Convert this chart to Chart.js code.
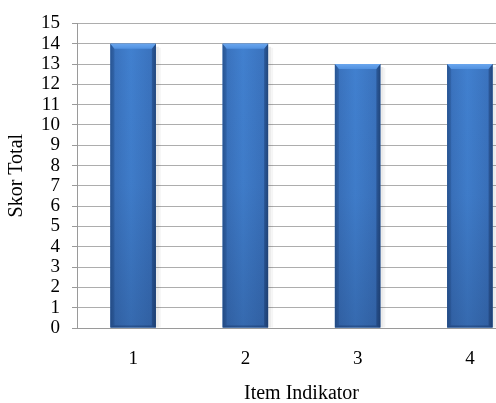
<!DOCTYPE html>
<html>
<head>
<meta charset="utf-8">
<script src="https://cdn.jsdelivr.net/npm/chart.js@4/dist/chart.umd.min.js"></script>
<style>
  html, body { margin: 0; padding: 0; background: #fff; overflow: hidden; }
  #wrap { width: 540px; height: 403px; position: relative; }
</style>
</head>
<body>
<div id="wrap"><canvas id="c" width="540" height="403"></canvas></div>
<script>
// Score per indicator item
const categories = ['1', '2', '3', '4'];
const skorTotal = [14, 14, 13, 13];
const yTicks = [0, 1, 2, 3, 4, 5, 6, 7, 8, 9, 10, 11, 12, 13, 14, 15];

const serif = "'Liberation Serif', 'Times New Roman', serif";

// Cylinder-like shading with a bevelled top edge, drawn over each bar
const bevelBars = {
  id: 'bevelBars',
  beforeDatasetsDraw(chart) {
    const ctx = chart.ctx;
    const meta = chart.getDatasetMeta(0);
    meta.data.forEach(bar => {
      const { x, y, base, width } = bar.getProps(['x', 'y', 'base', 'width'], true);
      const l = x - width / 2;
      // soft shadow to the right
      ctx.save();
      ctx.fillStyle = 'rgba(0,0,0,0.08)';
      ctx.fillRect(l + width, y + 3, 3, base - y - 3);
      ctx.fillStyle = 'rgba(0,0,0,0.04)';
      ctx.fillRect(l + width + 3, y + 4, 2, base - y - 4);
      ctx.restore();
    });
  },
  afterDatasetsDraw(chart) {
    const ctx = chart.ctx;
    const meta = chart.getDatasetMeta(0);
    meta.data.forEach(bar => {
      const { x, y, base, width } = bar.getProps(['x', 'y', 'base', 'width'], true);
      const l = x - width / 2, r = x + width / 2, h = base - y;
      ctx.save();
      // horizontal shading
      const g = ctx.createLinearGradient(l, 0, r, 0);
      g.addColorStop(0, '#2f5f9f');
      g.addColorStop(0.08, '#3a72bd');
      g.addColorStop(0.45, '#4180cf');
      g.addColorStop(0.92, '#3a72bd');
      g.addColorStop(1, '#2c5893');
      ctx.fillStyle = g;
      ctx.fillRect(l, y, width, h);
      // darkening toward the base
      const gv = ctx.createLinearGradient(0, y, 0, base);
      gv.addColorStop(0, 'rgba(20,40,80,0)');
      gv.addColorStop(0.5, 'rgba(20,40,80,0.05)');
      gv.addColorStop(1, 'rgba(20,40,80,0.25)');
      ctx.fillStyle = gv;
      ctx.fillRect(l, y, width, h);
      // side bevels
      const b = 4;
      ctx.fillStyle = 'rgba(20,50,100,0.22)';
      ctx.beginPath();
      ctx.moveTo(l, y); ctx.lineTo(l + b, y + b); ctx.lineTo(l + b, base - 2); ctx.lineTo(l, base);
      ctx.closePath(); ctx.fill();
      ctx.fillStyle = 'rgba(10,30,70,0.30)';
      ctx.beginPath();
      ctx.moveTo(r, y); ctx.lineTo(r - b, y + b); ctx.lineTo(r - b, base - 2); ctx.lineTo(r, base);
      ctx.closePath(); ctx.fill();
      // bottom bevel
      ctx.fillStyle = 'rgba(10,30,70,0.30)';
      ctx.beginPath();
      ctx.moveTo(l, base); ctx.lineTo(l + b, base - 2); ctx.lineTo(r - b, base - 2); ctx.lineTo(r, base);
      ctx.closePath(); ctx.fill();
      // top bevel, lighter
      const gt = ctx.createLinearGradient(0, y, 0, y + b + 1);
      gt.addColorStop(0, '#6aa6ee');
      gt.addColorStop(1, '#5191e0');
      ctx.fillStyle = gt;
      ctx.beginPath();
      ctx.moveTo(l, y); ctx.lineTo(r, y); ctx.lineTo(r - b, y + b + 1); ctx.lineTo(l + b, y + b + 1);
      ctx.closePath(); ctx.fill();
      ctx.restore();
    });
  }
};

new Chart(document.getElementById('c'), {
  type: 'bar',
  data: {
    labels: categories,
    datasets: [{
      label: 'Skor Total',
      data: skorTotal,
      backgroundColor: '#3b76c4',
      borderWidth: 0,
      categoryPercentage: 1,
      barPercentage: 0.405
    }]
  },
  options: {
    responsive: false,
    animation: false,
    events: [],
    layout: { padding: { left: 0, top: 20, right: 14, bottom: 0 } },
    plugins: { legend: { display: false }, tooltip: { enabled: false } },
    scales: {
      x: {
        grid: { display: false, drawTicks: false },
        border: { display: true, color: '#9a9a9a', width: 1 },
        ticks: { color: '#000', font: { family: serif, size: 19 }, padding: 20 },
        title: {
          display: true, text: 'Item Indikator', color: '#000',
          font: { family: serif, size: 20 }, padding: { top: 0, bottom: -3 }
        },
        afterFit(scale) { scale.height = 75; }
      },
      y: {
        min: 0, max: 15,
        afterBuildTicks(scale) { scale.ticks = yTicks.map(v => ({ value: v })); },
        grid: { color: '#adadad', lineWidth: 1, tickLength: 5, tickColor: '#9a9a9a' },
        border: { display: true, color: '#9a9a9a', width: 1 },
        ticks: { color: '#000', font: { family: serif, size: 19 }, padding: 12, autoSkip: false },
        title: {
          display: true, text: 'Skor Total', color: '#000',
          font: { family: serif, size: 20 }, padding: { top: 5, bottom: 0 }
        },
        afterFit(scale) { scale.width = 77; }
      }
    }
  },
  plugins: [bevelBars]
});
</script>
</body>
</html>
